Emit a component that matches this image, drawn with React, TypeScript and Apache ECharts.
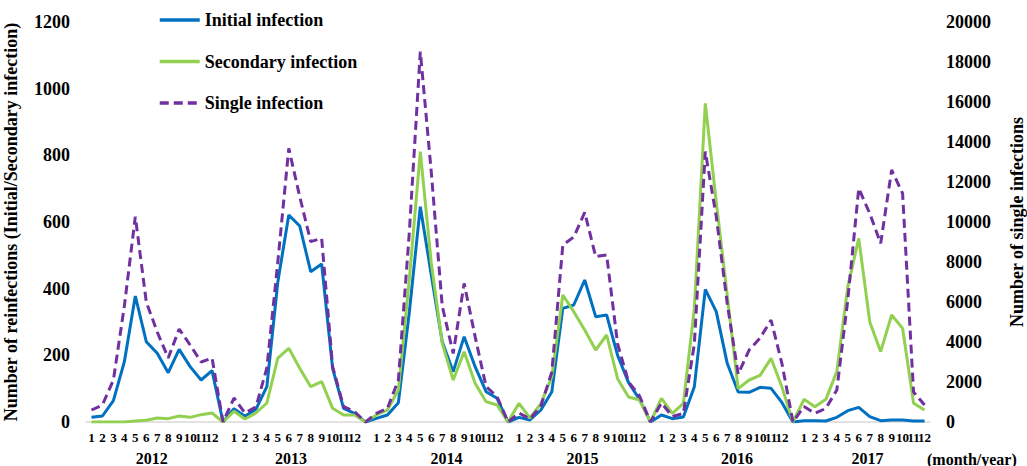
import React, { useEffect, useRef } from "react";
import * as echarts from "echarts";

const FONT = '"Liberation Serif", "Times New Roman", serif';

const MONTHS = ["1", "2", "3", "4", "5", "6", "7", "8", "9", "10", "11", "12"];
const YEARS = ["2012", "2013", "2014", "2015", "2016", "2017"];
// position of each year label along the category axis (fractional category index)
const YEAR_LABEL_POS = [5.5, 18.2, 32.4, 44.8, 58.9, 70.8];

const SERIES_NAMES = ["Initial infection", "Secondary infection", "Single infection"];

// Each year: 12 months followed by an empty separator slot (value 0), except the last year
const INITIAL = [
  14, 18, 64, 181, 378, 241, 206, 148, 218, 166, 126, 154, 0,
  40, 17, 38, 106, 420, 621, 588, 451, 474, 161, 41, 26, 0,
  11, 21, 58, 330, 646, 441, 241, 151, 256, 166, 91, 71, 0,
  14, 6, 36, 91, 341, 351, 426, 316, 321, 200, 118, 68, 0,
  21, 10, 15, 106, 398, 331, 176, 90, 89, 104, 101, 58, 0,
  4, 4, 3, 14, 34, 44, 16, 4, 6, 6, 3, 3,
];

const SECONDARY = [
  0, 0, 0, 0, 3, 5, 12, 10, 18, 14, 22, 27, 0,
  32, 9, 27, 57, 192, 221, 161, 106, 121, 41, 21, 21, 0,
  21, 36, 96, 430, 811, 477, 236, 126, 211, 116, 61, 51, 0,
  56, 12, 55, 136, 381, 331, 276, 216, 261, 130, 75, 66, 0,
  71, 26, 56, 340, 956, 660, 380, 100, 126, 140, 191, 104, 0,
  68, 46, 68, 151, 406, 551, 301, 211, 321, 281, 56, 36,
];

const SINGLE = [
  600, 850, 2100, 5800, 10270, 6000, 4500, 3200, 4650, 3850, 3000, 3200, 0,
  1200, 450, 750, 2700, 8000, 13680, 11270, 9020, 9180, 2770, 770, 520, 0,
  430, 680, 2100, 9500, 18520, 12500, 5800, 3430, 6930, 4270, 1770, 1270, 0,
  450, 150, 800, 2500, 8850, 9250, 10480, 8270, 8350, 3900, 2000, 1300, 0,
  950, 270, 430, 3900, 13520, 10270, 5930, 2400, 3600, 4200, 5100, 2900, 0,
  770, 430, 680, 1600, 6100, 11680, 10430, 8930, 12600, 11430, 1500, 850,
];

const CATEGORIES: string[] = [];
YEARS.forEach((y, k) => {
  MONTHS.forEach((m) => CATEGORIES.push(m));
  if (k < YEARS.length - 1) CATEGORIES.push("");
});

const bold = (size: number) => ({
  fontFamily: FONT,
  fontWeight: "bold" as const,
  fontSize: size,
  color: "#000",
});

export default function App() {
  const ref = useRef<HTMLDivElement>(null);
  useEffect(() => {
    document.body.style.margin = "0";
    const chart = echarts.init(ref.current!, null, { renderer: "svg" });
    const n = CATEGORIES.length;
    chart.setOption({
      animation: false,
      backgroundColor: "#fff",
      grid: {
        left: 86,
        right: 97,
        top: 22,
        bottom: 44,
        containLabel: false,
        outerBoundsMode: "none",
      },
      legend: {
        orient: "vertical",
        left: 158,
        top: 10,
        padding: 0,
        itemWidth: 40,
        itemHeight: 20,
        itemGap: 21.5,
        data: SERIES_NAMES,
        itemStyle: { opacity: 0 },
        lineStyle: { width: 3.5 },
        textStyle: { ...bold(18), lineHeight: 20 },
      },
      xAxis: [
        {
          type: "category",
          data: CATEGORIES,
          boundaryGap: true,
          axisLine: { lineStyle: { color: "#d9d9d9", width: 1.5 } },
          axisTick: { show: false },
          splitLine: { show: false },
          axisLabel: { interval: 0, margin: 9, ...bold(13) },
        },
        {
          type: "value",
          min: -0.5,
          max: n - 0.5,
          position: "bottom",
          axisLine: { show: false },
          axisTick: { show: false },
          splitLine: { show: false },
          axisLabel: {
            customValues: YEAR_LABEL_POS,
            margin: 28,
            ...bold(16),
            formatter: (v: number) => {
              const idx = YEAR_LABEL_POS.findIndex((p) => Math.abs(p - v) < 0.01);
              return idx >= 0 ? YEARS[idx] : "";
            },
          },
        },
      ],
      yAxis: [
        {
          type: "value",
          min: 0,
          max: 1200,
          interval: 200,
          position: "left",
          name: "Number of reinfections (Initial/Secondary infection)",
          nameLocation: "middle",
          nameRotate: 90,
          nameGap: 66,
          nameTextStyle: bold(18),
          axisLine: { show: false },
          axisTick: { show: false },
          splitLine: { show: false },
          axisLabel: { margin: 16, ...bold(18), formatter: (v: number) => String(v) },
        },
        {
          type: "value",
          min: 0,
          max: 20000,
          interval: 2000,
          position: "right",
          name: "Number of single infections",
          nameLocation: "middle",
          nameRotate: 90,
          nameGap: 78,
          nameTextStyle: bold(18),
          axisLine: { show: false },
          axisTick: { show: false },
          splitLine: { show: false },
          axisLabel: { margin: 16, ...bold(18), formatter: (v: number) => String(v) },
        },
      ],
      graphic: [
        {
          type: "text",
          left: 927,
          top: 451,
          style: { text: "(month/year)", font: `bold 16px ${FONT}`, fill: "#000" },
        },
      ],
      series: [
        {
          name: SERIES_NAMES[0],
          type: "line",
          xAxisIndex: 0,
          yAxisIndex: 0,
          data: INITIAL,
          symbol: "circle",
          symbolSize: 0,
          showSymbol: false,
          lineStyle: { color: "#0070C0", width: 3 },
          itemStyle: { color: "#0070C0" },
        },
        {
          name: SERIES_NAMES[1],
          type: "line",
          xAxisIndex: 0,
          yAxisIndex: 0,
          data: SECONDARY,
          symbol: "circle",
          symbolSize: 0,
          showSymbol: false,
          lineStyle: { color: "#92D050", width: 3 },
          itemStyle: { color: "#92D050" },
        },
        {
          name: SERIES_NAMES[2],
          type: "line",
          xAxisIndex: 0,
          yAxisIndex: 1,
          data: SINGLE,
          symbol: "circle",
          symbolSize: 0,
          showSymbol: false,
          lineStyle: { color: "#7030A0", width: 3, type: [9, 5] },
          itemStyle: { color: "#7030A0" },
        },
      ],
    });
    return () => chart.dispose();
  }, []);
  return <div ref={ref} style={{ width: 1027, height: 466 }} />;
}
